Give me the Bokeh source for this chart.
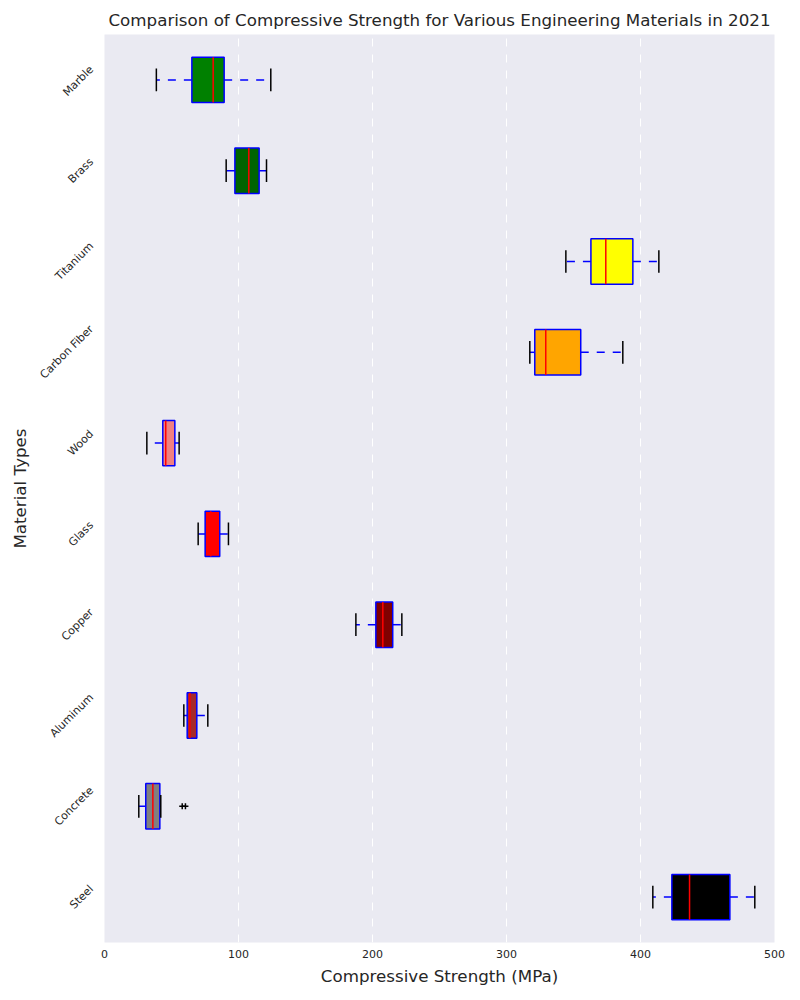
import numpy as np
from bokeh.plotting import figure
from bokeh.models import ColumnDataSource, FixedTicker, Range1d
from bokeh.embed import file_html
from bokeh.resources import INLINE

materials = ["Steel", "Concrete", "Aluminum", "Copper", "Glass", "Wood",
             "Carbon Fiber", "Titanium", "Brass", "Marble"]
whisker_low = [409.2, 25.6, 59.2, 187.6, 69.9, 31.6, 317.4, 344.3, 90.8, 38.7]
q1 = [423.4, 30.8, 61.7, 202.5, 75.1, 43.5, 321.1, 363.0, 97.3, 65.2]
median = [436.6, 36.1, 63.7, 207.7, 79.3, 45.7, 329.3, 374.1, 107.7, 81.1]
q3 = [466.7, 41.3, 68.9, 215.1, 86.0, 52.5, 355.4, 394.3, 115.4, 89.3]
whisker_high = [485.3, 42.0, 77.1, 221.9, 92.5, 55.7, 386.8, 413.7, 120.9, 124.1]
box_colors = ["black", "gray", "brown", "maroon", "red", "lightcoral",
              "orange", "yellow", "darkgreen", "green"]
outlier_material = ["Concrete", "Concrete"]
outlier_values = [58.0, 60.4]
x_ticks = [0, 100, 200, 300, 400, 500]

# approximate DejaVu Sans advance widths (units per em = 2048), used only to
# centre the rotated category labels like matplotlib does
_adv = {"S": 1300, "t": 803, "e": 1260, "l": 569, "C": 1430, "o": 1253,
        "n": 1298, "c": 1126, "r": 842, "A": 1401, "u": 1298, "m": 1995,
        "i": 569, "p": 1300, "G": 1595, "a": 1255, "s": 1067, "W": 2025,
        "d": 1300, "b": 1300, " ": 651, "F": 1178, "T": 1251, "B": 1405}
LABEL_PX = 11
FRAME_H = 908


def text_width(s):
    return sum(_adv.get(ch, 1200) for ch in s) / 2048 * LABEL_PX


pos = list(range(1, len(materials) + 1))
px_per_unit = FRAME_H / len(materials)
label_ticks = [round(y + 0.354 * text_width(m) / px_per_unit, 4)
               for m, y in zip(materials, pos)]

src = ColumnDataSource(dict(
    pos=pos,
    low=whisker_low, q1=q1, med=median, q3=q3, high=whisker_high,
    color=box_colors,
    bot=[p_ - 0.25 for p_ in pos], top=[p_ + 0.25 for p_ in pos],
    cbot=[p_ - 0.125 for p_ in pos], ctop=[p_ + 0.125 for p_ in pos],
))
out_src = ColumnDataSource(dict(
    x=outlier_values,
    y=[materials.index(m) + 1 for m in outlier_material],
))

p = figure(width=800, height=1000, output_backend="svg", toolbar_location=None,
           x_range=Range1d(0, 500), y_range=Range1d(0.5, len(materials) + 0.5),
           title="Comparison of Compressive Strength for Various Engineering Materials in 2021",
           min_border_left=104, min_border_right=26, min_border_top=34, min_border_bottom=58)

p.background_fill_color = "#eaeaf2"
p.border_fill_color = "white"
p.outline_line_color = None

p.title.align = "center"
p.title.text_font = "DejaVu Sans"
p.title.text_font_size = "16.7px"
p.title.text_font_style = "normal"
p.title.text_color = "#262626"

# whiskers
p.segment(x0="q1", x1="low", y0="pos", y1="pos", source=src,
          line_color="blue", line_width=1.5, line_dash="8 8")
p.segment(x0="q3", x1="high", y0="pos", y1="pos", source=src,
          line_color="blue", line_width=1.5, line_dash="8 8")
# boxes
p.quad(left="q1", right="q3", bottom="bot", top="top", source=src,
       fill_color="color", line_color="blue", line_width=1.5)
# medians
p.segment(x0="med", x1="med", y0="bot", y1="top", source=src,
          line_color="red", line_width=1.5)
# caps
p.segment(x0="low", x1="low", y0="cbot", y1="ctop", source=src,
          line_color="black", line_width=1.5)
p.segment(x0="high", x1="high", y0="cbot", y1="ctop", source=src,
          line_color="black", line_width=1.5)
# outliers
p.scatter(x="x", y="y", source=out_src, marker="cross", size=6,
          line_color="black", line_width=1.5)

p.xaxis.ticker = FixedTicker(ticks=x_ticks)
p.yaxis.ticker = FixedTicker(ticks=label_ticks)
p.yaxis.major_label_overrides = {t: m for t, m in zip(label_ticks, materials)}
p.yaxis.major_label_orientation = np.pi / 4

for ax in (p.xaxis, p.yaxis):
    ax.axis_line_color = None
    ax.major_tick_line_color = None
    ax.minor_tick_line_color = None
    ax.major_tick_out = 0
    ax.major_tick_in = 0
    ax.minor_tick_out = 0
    ax.minor_tick_in = 0
    ax.major_label_text_font = "DejaVu Sans"
    ax.major_label_text_color = "#262626"
    ax.axis_label_text_font = "DejaVu Sans"
    ax.axis_label_text_font_size = "16.7px"
    ax.axis_label_text_font_style = "normal"
    ax.axis_label_text_color = "#262626"

p.xaxis.major_label_text_font_size = "11px"
p.yaxis.major_label_text_font_size = f"{LABEL_PX}px"
p.xaxis.major_label_standoff = 7
p.xaxis.axis_label_standoff = 5
p.yaxis.major_label_standoff = 13
p.yaxis.axis_label_standoff = 0
p.xaxis.axis_label = "Compressive Strength (MPa)"
p.yaxis.axis_label = "Material Types"

p.xgrid.grid_line_color = "white"
p.xgrid.grid_line_width = 1
p.xgrid.grid_line_dash = "8 8"
p.ygrid.grid_line_color = None

open("out.html", "w").write(file_html(p, INLINE))
